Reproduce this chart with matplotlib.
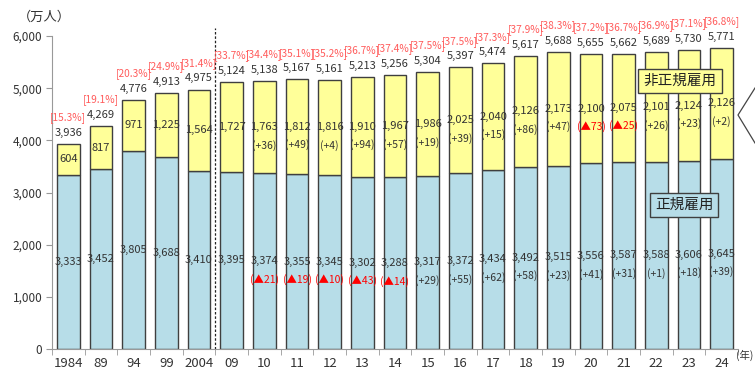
import matplotlib
matplotlib.use("Agg")
import matplotlib.pyplot as plt
import numpy as np

years = ['1984', '89', '94', '99', '2004', '09', '10', '11', '12', '13', '14',
         '15', '16', '17', '18', '19', '20', '21', '22', '23', '24']
regular = [3333, 3452, 3805, 3688, 3410, 3395, 3374, 3355, 3345, 3302, 3288,
           3317, 3372, 3434, 3492, 3515, 3556, 3587, 3588, 3606, 3645]
nonregular = [604, 817, 971, 1225, 1564, 1727, 1763, 1812, 1816, 1910, 1967,
              1986, 2025, 2040, 2126, 2173, 2100, 2075, 2101, 2124, 2126]
totals = [3936, 4269, 4776, 4913, 4975, 5124, 5138, 5167, 5161, 5213, 5256,
          5304, 5397, 5474, 5617, 5688, 5655, 5662, 5689, 5730, 5771]
share = [15.3, 19.1, 20.3, 24.9, 31.4, 33.7, 34.4, 35.1, 35.2, 36.7, 37.4,
         37.5, 37.5, 37.3, 37.9, 38.3, 37.2, 36.7, 36.9, 37.1, 36.8]
# year-on-year change, shown from 2010 on
reg_change = [None] * 6 + [-21, -19, -10, -43, -14, 29, 55, 62, 58, 23, 41, 31, 1, 18, 39]
non_change = [None] * 6 + [36, 49, 4, 94, 57, 19, 39, 15, 86, 47, -73, -25, 26, 23, 2]

BLUE = '#b7dde8'
YELLOW = '#ffff99'
EDGE = '#3f3f3f'
PINK = '#ff5b5b'
NUM = ['Liberation Sans Narrow', 'Noto Sans CJK JP', 'DejaVu Sans']
JP = ['Noto Sans CJK JP', 'DejaVu Sans']

fig = plt.figure(figsize=(7.55, 3.76), dpi=100)
ax = fig.add_axes([52/755, 1-349/376, (738-52)/755, (349-36)/376])

x = np.arange(len(years))
ax.bar(x, regular, width=0.7, color=BLUE, edgecolor=EDGE, linewidth=1.0)
ax.bar(x, nonregular, width=0.7, bottom=regular, color=YELLOW, edgecolor=EDGE, linewidth=1.0)

def chg_text(v):
    if v < 0:
        return '(▲%d)' % (-v), 'red'
    return '(+%d)' % v, '#333333'

for i in x:
    r, n, t = regular[i], nonregular[i], totals[i]
    ax.text(i, r/2, format(r, ','), ha='center', va='center', fontsize=8, family=NUM, color='#333333')
    ax.text(i, r + n/2, format(n, ','), ha='center', va='center', fontsize=8, family=NUM, color='#333333')
    if reg_change[i] is not None:
        s, c = chg_text(reg_change[i])
        ax.annotate(s, (i, r/2), xytext=(0, -13), textcoords='offset points',
                    ha='center', va='center', fontsize=7.5, family=NUM, color=c)
        s, c = chg_text(non_change[i])
        ax.annotate(s, (i, r + n/2), xytext=(0, -13), textcoords='offset points',
                    ha='center', va='center', fontsize=7.5, family=NUM, color=c)
    ax.annotate(format(t, ','), (i, t), xytext=(0, 8), textcoords='offset points',
                ha='center', va='center', fontsize=8, family=NUM, color='#333333')
    ax.annotate('[%.1f%%]' % share[i], (i, t), xytext=(0, 19), textcoords='offset points',
                ha='center', va='center', fontsize=7.3, family=NUM, color=PINK)

ax.plot([4.5, 4.5], [0, 6150], ls=(0, (2, 1.5)), color='#222222', lw=0.9, clip_on=False)

ax.set_xlim(-0.5, len(years) - 0.5)
ax.set_ylim(0, 6000)
ax.set_yticks(range(0, 6001, 1000))
ax.set_yticklabels([format(v, ',') for v in range(0, 6001, 1000)], family=NUM, fontsize=8.5, color='#333333')
ax.set_xticks(x)
ax.set_xticklabels(years, family=NUM, fontsize=9.5, color='#333333')
ax.set_xticks(np.arange(-0.5, len(years)), minor=True)
ax.tick_params(axis='x', which='major', length=0, pad=6)
ax.tick_params(axis='x', which='minor', length=4, color='#999999')
ax.tick_params(axis='y', length=4, color='#999999', pad=3)
for s in ['top', 'right']:
    ax.spines[s].set_visible(False)
ax.spines['left'].set_color('#999999')
ax.spines['bottom'].set_color('#999999')

fig.text(18/755, 1-17/376, '（万人）', fontsize=9.5, family=JP, color='#333333', va='center')
fig.text(745/755, 1-355/376, '(年)', fontsize=7.5, family=JP, color='#333333', va='center', ha='center')

fig.text(680/755, 1-81/376, '非正規雇用', fontsize=10.5, family=JP, color='#222222', ha='center', va='center',
         bbox=dict(boxstyle='square,pad=0.35', fc=YELLOW, ec=EDGE, lw=1.0))
fig.text(684/755, 1-205/376, '正規雇用', fontsize=10.5, family=JP, color='#222222', ha='center', va='center',
         bbox=dict(boxstyle='square,pad=0.35', fc=BLUE, ec=EDGE, lw=1.0))

# edge of the callout shape at the right border
fig.add_artist(plt.Line2D([755/755, 738/755, 755/755], [1-88/376, 1-115/376, 1-143/376],
                          color='#444444', lw=0.9))

fig.savefig('out.png', dpi=100)
